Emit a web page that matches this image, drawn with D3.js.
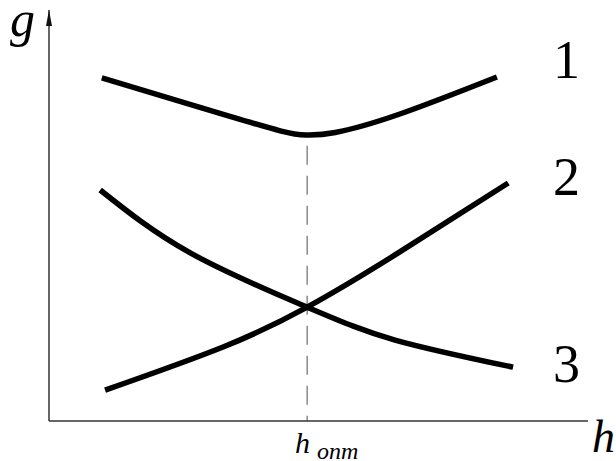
<!DOCTYPE html>
<html>
<head>
<meta charset="utf-8">
<script src="https://cdn.jsdelivr.net/npm/d3@7"></script>
<style>
  html, body { margin: 0; padding: 0; background: #fff; }
  svg { display: block; }
</style>
</head>
<body>
<svg id="chart" width="616" height="461"></svg>
<script>
// ---- data (abstract units, h: 0..10, g: 0..10) ----
const curve1H = [0.98, 2.80, 4.29, 4.79, 5.31, 6.51, 8.31];
const curve1G = [8.35, 7.63, 7.06, 6.96, 7.02, 7.47, 8.37];
const curve2H = [0.95, 2.62, 4.79, 6.42, 8.61];
const curve2G = [5.62, 4.09, 2.77, 1.97, 1.31];
const curve3H = [1.04, 3.23, 4.79, 6.42, 8.52];
const curve3G = [0.75, 1.80, 2.77, 4.04, 5.79];
const hOpt = 4.79;
const hOptTop = 6.70;
const curveLabels = ["1", "2", "3"];
const labelG = [8.35, 5.50, 0.95];

const svg = d3.select("#chart");
const x = d3.scaleLinear().domain([0, 10]).range([49, 588]);
const y = d3.scaleLinear().domain([0, 10]).range([421, 10]);

// dashed optimum line
svg.append("line")
  .attr("x1", x(hOpt)).attr("x2", x(hOpt))
  .attr("y1", y(hOptTop)).attr("y2", y(0))
  .attr("stroke", "#8a8a8a").attr("stroke-width", 1.5)
  .attr("stroke-dasharray", "19,11");

// axes
svg.append("line")
  .attr("x1", x(0)).attr("x2", x(10))
  .attr("y1", y(0)).attr("y2", y(0))
  .attr("stroke", "#333").attr("stroke-width", 1.5);
svg.append("line")
  .attr("x1", x(0)).attr("x2", x(0))
  .attr("y1", y(0)).attr("y2", y(10))
  .attr("stroke", "#333").attr("stroke-width", 1.5);
// arrow head on g axis
svg.append("path")
  .attr("d", `M${x(0)},${y(10)} L${x(0) - 3},${y(10) + 16} L${x(0) + 3},${y(10) + 16} Z`)
  .attr("fill", "#111");

// curves
const line = d3.line().x(d => x(d[0])).y(d => y(d[1])).curve(d3.curveNatural);
const series = [
  d3.zip(curve1H, curve1G),
  d3.zip(curve2H, curve2G),
  d3.zip(curve3H, curve3G)
];
svg.selectAll("path.curve").data(series).enter().append("path")
  .attr("class", "curve")
  .attr("d", line)
  .attr("fill", "none")
  .attr("stroke", "#000")
  .attr("stroke-width", 5.5)
  .attr("stroke-linecap", "butt");

// curve labels
svg.selectAll("text.num").data(curveLabels).enter().append("text")
  .attr("class", "num")
  .attr("x", 553)
  .attr("y", (d, i) => y(labelG[i]))
  .attr("font-family", "Liberation Serif, Times New Roman, serif")
  .attr("font-size", 54)
  .attr("fill", "#000")
  .text(d => d);

// axis labels
svg.append("text")
  .attr("x", 10).attr("y", 36)
  .attr("font-family", "Liberation Serif, Times New Roman, serif")
  .attr("font-style", "italic")
  .attr("font-size", 50)
  .text("g");
svg.append("text")
  .attr("x", 592).attr("y", 452)
  .attr("font-family", "Liberation Serif, Times New Roman, serif")
  .attr("font-style", "italic")
  .attr("font-size", 46)
  .text("h");

const hoptLabel = svg.append("text")
  .attr("x", 295).attr("y", 453)
  .attr("font-family", "Liberation Serif, Times New Roman, serif")
  .attr("font-style", "italic")
  .attr("font-size", 30);
hoptLabel.append("tspan").text("h");
hoptLabel.append("tspan").attr("dx", 7).attr("dy", 6).attr("font-size", 24).text("опт");
</script>
</body>
</html>
